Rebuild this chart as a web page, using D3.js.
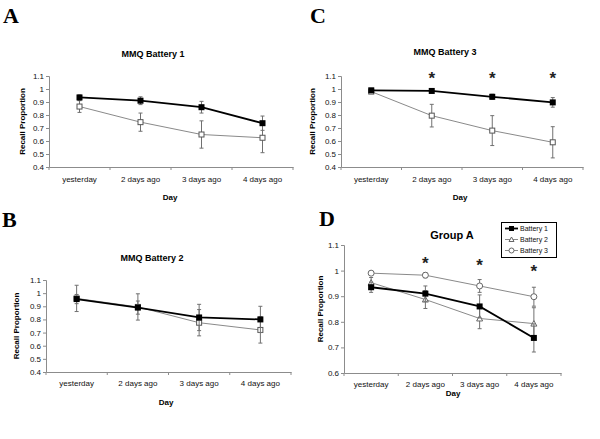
<!DOCTYPE html>
<html>
<head>
<meta charset="utf-8">
<script src="https://cdn.jsdelivr.net/npm/d3@7"></script>
<style>
  html, body { margin: 0; padding: 0; background: #fff; }
  svg { display: block; }
  text { font-family: "Liberation Sans", Arial, sans-serif; }
  text.letter { font-family: "Liberation Serif", "Times New Roman", serif; }
</style>
</head>
<body>
<svg id="chart" width="600" height="439"></svg>
<script>
// ---------------- DATA ----------------
const days = ["yesterday", "2 days ago", "3 days ago", "4 days ago"];
const yTicksABC = [0.4, 0.5, 0.6, 0.7, 0.8, 0.9, 1, 1.1];
const yTickLabelsABC = ["0.4", "0.5", "0.6", "0.7", "0.8", "0.9", "1", "1.1"];
const yTicksD = [0.6, 0.7, 0.8, 0.9, 1, 1.1];
const yTickLabelsD = ["0.6", "0.7", "0.8", "0.9", "1", "1.1"];

// Panel A : MMQ Battery 1
const battery1GroupA = [0.935, 0.91, 0.86, 0.737];
const battery1GroupAErr = [0.02, 0.03, 0.045, 0.055];
const battery1Other = [0.865, 0.745, 0.65, 0.625];
const battery1OtherErr = [0.045, 0.07, 0.105, 0.115];

// Panel B : MMQ Battery 2
const battery2GroupA = [0.955, 0.89, 0.815, 0.80];
const battery2GroupAErr = [0.035, 0.05, 0.1, 0.1];
const battery2Other = [0.96, 0.895, 0.775, 0.72];
const battery2OtherErr = [0.1, 0.1, 0.1, 0.1];

// Panel C : MMQ Battery 3
const battery3GroupA = [0.99, 0.985, 0.94, 0.897];
const battery3GroupAErr = [0.005, 0.01, 0.02, 0.037];
const battery3Other = [0.98, 0.795, 0.68, 0.59];
const battery3OtherErr = [0.005, 0.087, 0.115, 0.12];
const asterisksC = [null, 1.105, 1.105, 1.105];

// Panel D : Group A
const groupABattery1 = [0.935, 0.91, 0.86, 0.737];
const groupABattery1Err = [0.02, 0.03, 0.045, 0.055];
const groupABattery2 = [0.953, 0.887, 0.813, 0.793];
const groupABattery2Err = [0.02, 0.035, 0.04, 0.062];
const groupABattery3 = [0.99, 0.982, 0.94, 0.898];
const groupABattery3Err = [0.005, 0.01, 0.025, 0.037];
const asterisksD = [null, 1.041, 1.033, 1.01];
const legendLabels = ["Battery 1", "Battery 2", "Battery 3"];

// ---------------- DRAWING ----------------
const svg = d3.select("#chart");
const GRAY_LINE = "#8a8a8a";
const ERR = "#707070";
const AXIS = "#8c8c8c";

function symbolMarker(g, type, cx, cy, size) {
  if (type === "squareFilled") {
    g.append("rect").attr("x", cx - size / 2).attr("y", cy - size / 2)
      .attr("width", size).attr("height", size).attr("fill", "#000");
  } else if (type === "squareOpen") {
    g.append("rect").attr("x", cx - size / 2 + 0.5).attr("y", cy - size / 2 + 0.5)
      .attr("width", size - 1).attr("height", size - 1)
      .attr("fill", "#fff").attr("stroke", "#555").attr("stroke-width", 1);
  } else if (type === "circleOpen") {
    g.append("circle").attr("cx", cx).attr("cy", cy).attr("r", size / 2)
      .attr("fill", "#fff").attr("stroke", "#666").attr("stroke-width", 1);
  } else if (type === "triangleOpen") {
    const h = size;
    g.append("path")
      .attr("d", `M${cx},${cy - h / 2} L${cx + h / 2},${cy + h / 2 - 0.5} L${cx - h / 2},${cy + h / 2 - 0.5} Z`)
      .attr("fill", "#fff").attr("stroke", "#666").attr("stroke-width", 1);
  }
}

function panel(cfg) {
  const g = svg.append("g");
  const x = d3.scaleBand().domain(days).range([cfg.x0, cfg.x1]).paddingInner(0).paddingOuter(0);
  const y = d3.scaleLinear().domain([cfg.ymin, cfg.ymax]).range([cfg.yb, cfg.yt]);
  const cx = d => x(d) + x.bandwidth() / 2;

  // Y axis
  const yAxis = d3.axisLeft(y).tickValues(cfg.yTicks).tickSize(3).tickPadding(2)
    .tickFormat((d, i) => cfg.yLabels[i]);
  const ya = g.append("g").attr("transform", `translate(${cfg.x0},0)`).call(yAxis);
  ya.select(".domain").attr("stroke", AXIS);
  ya.selectAll(".tick line").attr("stroke", AXIS);
  ya.selectAll(".tick text").attr("font-size", 8).attr("fill", "#111");

  // X axis: labels at band centres, tick marks at band boundaries
  const xAxis = d3.axisBottom(x).tickSize(0).tickPadding(cfg.labelPad).tickSizeOuter(0);
  const xa = g.append("g").attr("transform", `translate(0,${cfg.yb})`).call(xAxis);
  xa.select(".domain").attr("stroke", AXIS);
  xa.selectAll(".tick text").attr("font-size", 8).attr("fill", "#111");
  const bounds = days.map(d => x(d)).concat([x(days[days.length - 1]) + x.bandwidth()]);
  xa.selectAll(".bound").data(bounds).join("line").attr("class", "bound")
    .attr("x1", d => d).attr("x2", d => d).attr("y1", 0).attr("y2", 3).attr("stroke", AXIS);

  // titles
  g.append("text").attr("x", cfg.titleX).attr("y", cfg.titleY).attr("text-anchor", "middle")
    .attr("font-size", cfg.titleSize).attr("font-weight", "bold").text(cfg.title);
  g.append("text").attr("x", cfg.dayX).attr("y", cfg.dayY).attr("text-anchor", "middle")
    .attr("font-size", 8).attr("font-weight", "bold").text("Day");
  g.append("text").attr("transform", `translate(${cfg.ylabX},${(cfg.yt + cfg.yb) / 2}) rotate(-90)`)
    .attr("text-anchor", "middle").attr("font-size", 8).attr("font-weight", "bold")
    .text("Recall Proportion");
  g.append("text").attr("class", "letter").attr("x", cfg.letterX).attr("y", cfg.letterY)
    .attr("font-size", 22).attr("font-weight", "bold").text(cfg.letter);

  const line = d3.line().x((d, i) => cx(days[i])).y(d => y(d));

  cfg.series.forEach(s => {
    const sg = g.append("g");
    // error bars
    s.values.forEach((v, i) => {
      const e = s.err[i];
      const px = cx(days[i]);
      sg.append("line").attr("x1", px).attr("x2", px).attr("y1", y(v - e)).attr("y2", y(v + e))
        .attr("stroke", ERR).attr("stroke-width", 1);
      [v - e, v + e].forEach(b => {
        sg.append("line").attr("x1", px - 2).attr("x2", px + 2).attr("y1", y(b)).attr("y2", y(b))
          .attr("stroke", ERR).attr("stroke-width", 1);
      });
    });
    sg.append("path").datum(s.values).attr("d", line).attr("fill", "none")
      .attr("stroke", s.color).attr("stroke-width", s.width);
    s.values.forEach((v, i) => symbolMarker(sg, s.marker, cx(days[i]), y(v), s.size));
  });

  if (cfg.asterisks) {
    cfg.asterisks.forEach((a, i) => {
      if (a == null) return;
      g.append("text").attr("x", cx(days[i])).attr("y", y(a) + 9).attr("text-anchor", "middle")
        .attr("font-size", 17).attr("font-weight", "bold").attr("fill", "#222").text("*");
    });
  }
  return { x, y, g };
}

const blackS = (values, err) => ({ values, err, color: "#000", width: 1.8, marker: "squareFilled", size: 6 });
const whiteS = (values, err) => ({ values, err, color: GRAY_LINE, width: 1, marker: "squareOpen", size: 6 });

panel({
  letter: "A", letterX: 3, letterY: 23,
  title: "MMQ Battery 1", titleX: 153, titleY: 57, titleSize: 9,
  x0: 49, x1: 293, yt: 76, yb: 167, ymin: 0.4, ymax: 1.1,
  yTicks: yTicksABC, yLabels: yTickLabelsABC, labelPad: 9,
  dayX: 170, dayY: 200, ylabX: 25,
  series: [whiteS(battery1Other, battery1OtherErr), blackS(battery1GroupA, battery1GroupAErr)]
});

panel({
  letter: "B", letterX: 2, letterY: 227,
  title: "MMQ Battery 2", titleX: 152, titleY: 261, titleSize: 9,
  x0: 46, x1: 291, yt: 280, yb: 372, ymin: 0.4, ymax: 1.1,
  yTicks: yTicksABC, yLabels: yTickLabelsABC, labelPad: 8,
  dayX: 166, dayY: 405, ylabX: 19,
  series: [whiteS(battery2Other, battery2OtherErr), blackS(battery2GroupA, battery2GroupAErr)]
});

panel({
  letter: "C", letterX: 310, letterY: 23,
  title: "MMQ Battery 3", titleX: 445, titleY: 55, titleSize: 9,
  x0: 341, x1: 583, yt: 76, yb: 167, ymin: 0.4, ymax: 1.1,
  yTicks: yTicksABC, yLabels: yTickLabelsABC, labelPad: 9,
  dayX: 460, dayY: 200, ylabX: 315,
  series: [whiteS(battery3Other, battery3OtherErr), blackS(battery3GroupA, battery3GroupAErr)],
  asterisks: asterisksC
});

panel({
  letter: "D", letterX: 319, letterY: 226,
  title: "Group A", titleX: 452, titleY: 239, titleSize: 11,
  x0: 344, x1: 561, yt: 245, yb: 373, ymin: 0.6, ymax: 1.1,
  yTicks: yTicksD, yLabels: yTickLabelsD, labelPad: 8,
  dayX: 453, dayY: 396, ylabX: 323,
  series: [
    { values: groupABattery3, err: groupABattery3Err, color: GRAY_LINE, width: 1, marker: "circleOpen", size: 6 },
    { values: groupABattery2, err: groupABattery2Err, color: GRAY_LINE, width: 1, marker: "triangleOpen", size: 6 },
    { values: groupABattery1, err: groupABattery1Err, color: "#000", width: 1.8, marker: "squareFilled", size: 6 }
  ],
  asterisks: asterisksD
});

// Legend for panel D
const lg = svg.append("g");
lg.append("rect").attr("x", 501.5).attr("y", 222.5).attr("width", 55).attr("height", 35)
  .attr("fill", "#fff").attr("stroke", "#000").attr("stroke-width", 1);
const legendStyles = [
  { color: "#000", width: 1.8, marker: "squareFilled" },
  { color: GRAY_LINE, width: 1, marker: "triangleOpen" },
  { color: GRAY_LINE, width: 1, marker: "circleOpen" }
];
const ly = d3.scalePoint().domain(legendLabels).range([228.5, 250.5]);
legendLabels.forEach((lab, i) => {
  const yy = ly(lab);
  lg.append("line").attr("x1", 505).attr("x2", 518).attr("y1", yy).attr("y2", yy)
    .attr("stroke", legendStyles[i].color).attr("stroke-width", legendStyles[i].width);
  symbolMarker(lg, legendStyles[i].marker, 511.5, yy, 5);
  lg.append("text").attr("x", 520).attr("y", yy + 2.5).attr("font-size", 7).attr("fill", "#111").text(lab);
});
</script>
</body>
</html>
